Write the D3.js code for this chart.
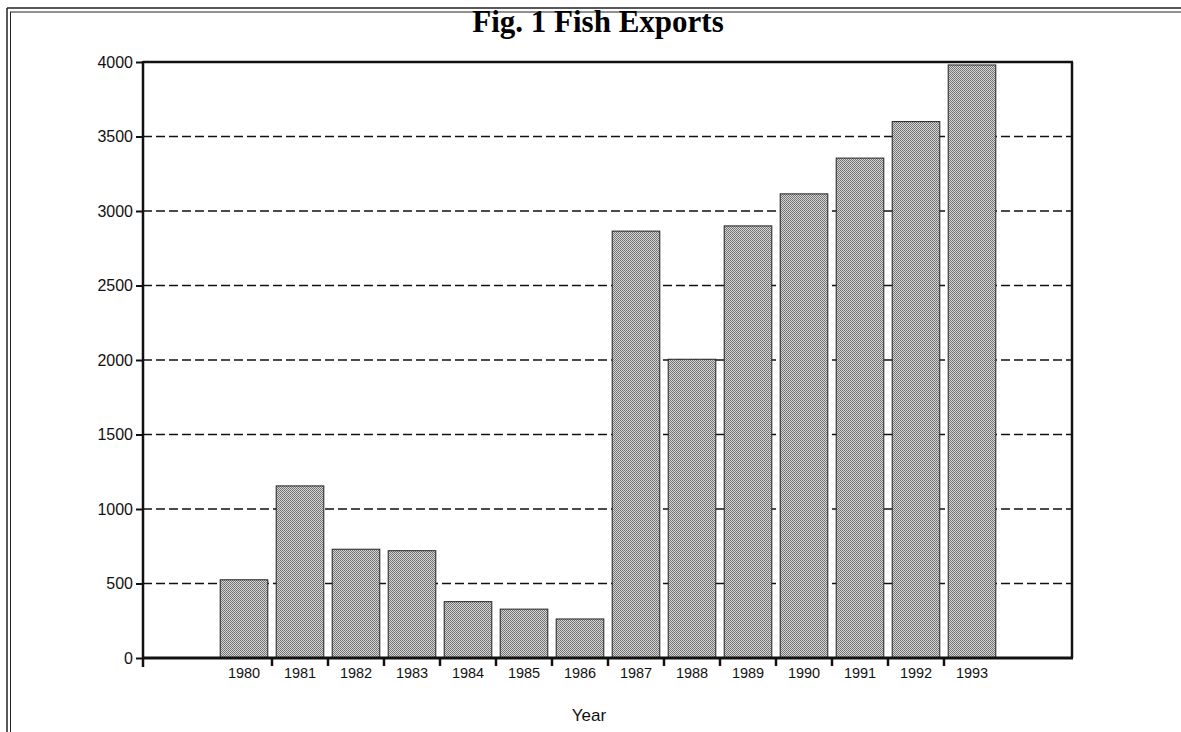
<!DOCTYPE html>
<html>
<head>
  <style type="text/css">
    body { margin: 0; background: #fff; }
    .grid line { stroke: #111; stroke-width: 1.6px; stroke-dasharray: 9 4; }
    .bars rect { stroke: #222; stroke-width: 1px; }
  </style>
</head>
<body>
<svg></svg>
<script src="https://d3js.org/d3.v7.min.js"></script>
<script>
    var width = 1181;
    var height = 732;

    // data
    var years = ['1980','1981','1982','1983','1984','1985','1986','1987','1988','1989','1990','1991','1992','1993'];
    var exports = [525, 1155, 730, 720, 378, 328, 262, 2865, 2005, 2900, 3115, 3355, 3600, 3980];
    var yTicks = [0, 500, 1000, 1500, 2000, 2500, 3000, 3500, 4000];

    var plot = {left: 143, right: 1072, top: 62, bottom: 658};

    var svg = d3.select('svg')
      .attr('width', width)
      .attr('height', height);

    // page frame (double rule, left and top)
    var frame = svg.append('g').attr('fill', 'none').attr('stroke', '#222');
    frame.append('line').attr('x1', 7).attr('x2', 7).attr('y1', 8).attr('y2', height).attr('stroke-width', 1.5);
    frame.append('line').attr('x1', 10.5).attr('x2', 10.5).attr('y1', 12).attr('y2', height).attr('stroke-width', 1);
    frame.append('line').attr('x1', 7).attr('x2', width).attr('y1', 8).attr('y2', 8).attr('stroke-width', 1.5);
    frame.append('line').attr('x1', 10).attr('x2', width).attr('y1', 12).attr('y2', 12).attr('stroke-width', 1);

    // stipple fill for the bars
    var pat = svg.append('defs').append('pattern')
      .attr('id', 'stipple')
      .attr('width', 2).attr('height', 2)
      .attr('patternUnits', 'userSpaceOnUse');
    pat.append('rect').attr('width', 2).attr('height', 2).attr('fill', '#d6d6d6');
    pat.append('rect').attr('width', 1).attr('height', 1).attr('fill', '#6e6e6e');
    pat.append('rect').attr('x', 1).attr('y', 1).attr('width', 1).attr('height', 1).attr('fill', '#7a7a7a');

    var x = d3.scaleBand()
      .domain(years)
      .range([216, 1000])
      .paddingInner(0.15)
      .paddingOuter(0.075);

    var y = d3.scaleLinear()
      .domain([0, 4000])
      .range([plot.bottom, plot.top]);

    // title
    svg.append('text')
      .attr('x', 598)
      .attr('y', 32)
      .attr('text-anchor', 'middle')
      .style('font-family', '"Liberation Serif", "Times New Roman", serif')
      .style('font-weight', 'bold')
      .style('font-size', '31px')
      .text('Fig. 1 Fish Exports');

    // dashed gridlines
    svg.append('g')
      .attr('class', 'grid')
      .selectAll('line')
      .data(yTicks.filter(function(d) { return d > 0 && d < 4000; }))
      .enter()
      .append('line')
      .attr('x1', plot.left)
      .attr('x2', plot.right)
      .attr('y1', function(d) { return y(d); })
      .attr('y2', function(d) { return y(d); });

    // bars
    svg.append('g')
      .attr('class', 'bars')
      .selectAll('rect')
      .data(exports)
      .enter()
      .append('rect')
      .attr('x', function(d, i) { return x(years[i]); })
      .attr('width', x.bandwidth())
      .attr('y', function(d) { return y(d); })
      .attr('height', function(d) { return y(0) - y(d); })
      .attr('fill', 'url(#stipple)');

    // plot frame
    svg.append('line').attr('x1', plot.left).attr('x2', plot.right + 1).attr('y1', plot.top).attr('y2', plot.top)
      .attr('stroke', '#111').attr('stroke-width', 2.5);
    svg.append('line').attr('x1', plot.right).attr('x2', plot.right).attr('y1', plot.top).attr('y2', plot.bottom)
      .attr('stroke', '#111').attr('stroke-width', 2.5);

    // y axis
    var yAxis = svg.append('g')
      .attr('transform', 'translate(' + plot.left + ',0)')
      .call(d3.axisLeft(y).tickValues(yTicks).tickFormat(d3.format('d')).tickSize(7).tickPadding(3));
    yAxis.select('.domain').attr('stroke', '#111').attr('stroke-width', 2.5)
      .attr('d', 'M0,' + (plot.top - 1) + 'V' + (plot.bottom + 9));
    yAxis.selectAll('.tick line').attr('stroke', '#111').attr('stroke-width', 2);
    yAxis.selectAll('.tick text').attr('fill', '#111')
      .style('font-family', '"Liberation Sans", Arial, sans-serif').style('font-size', '16px');

    // x axis
    var xAxis = svg.append('g')
      .attr('transform', 'translate(0,' + plot.bottom + ')')
      .call(d3.axisBottom(x).tickSize(0).tickPadding(10));
    xAxis.select('.domain').attr('stroke', '#111').attr('stroke-width', 3)
      .attr('d', 'M' + plot.left + ',0H' + (plot.right + 1));
    xAxis.selectAll('.tick text').attr('fill', '#111')
      .style('font-family', '"Liberation Sans", Arial, sans-serif').style('font-size', '14.5px');

    // category separators on the x axis
    var half = x.step() * x.paddingInner() / 2;
    xAxis.selectAll('.sep')
      .data(years.slice(1))
      .enter()
      .append('line')
      .attr('class', 'sep')
      .attr('x1', function(d) { return x(d) - half; })
      .attr('x2', function(d) { return x(d) - half; })
      .attr('y1', 0)
      .attr('y2', 8)
      .attr('stroke', '#111')
      .attr('stroke-width', 2.5);

    // axis title
    svg.append('text')
      .attr('x', 589)
      .attr('y', 721)
      .attr('text-anchor', 'middle')
      .style('font-family', '"Liberation Sans", Arial, sans-serif')
      .style('font-size', '17px')
      .attr('fill', '#111')
      .text('Year');
</script>
</body>
</html>
